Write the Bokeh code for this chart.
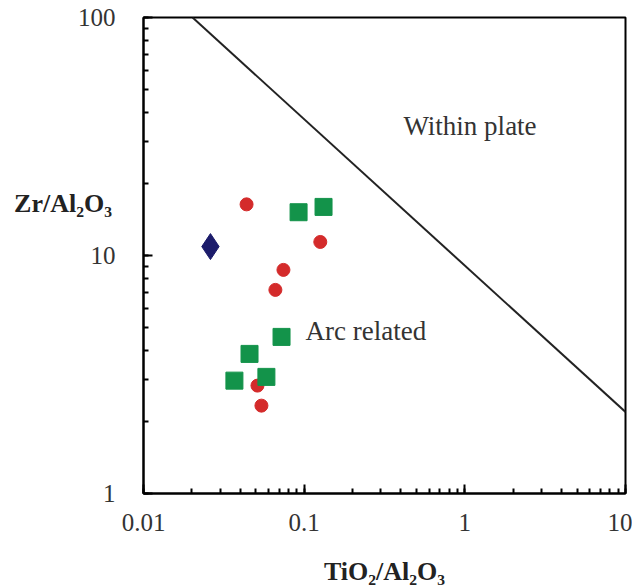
from bokeh.plotting import figure
from bokeh.models import Label, LogTicker
from bokeh.embed import file_html
from bokeh.resources import INLINE

# Data
circle_x = [0.0438, 0.126, 0.0743, 0.0662, 0.0512, 0.0542]
circle_y = [16.4, 11.4, 8.7, 7.17, 2.84, 2.34]
square_x = [0.0923, 0.132, 0.0723, 0.0457, 0.0582, 0.0368]
square_y = [15.2, 16.0, 4.55, 3.86, 3.09, 2.98]
diamond_x = [0.0261]
diamond_y = [10.9]
line_x = [0.0202, 10.0]
line_y = [100.0, 2.2]
x_ticks = [0.01, 0.1, 1, 10]
y_ticks = [1, 10, 100]

SERIF = "Liberation Serif"

p = figure(width=632, height=588, x_axis_type="log", y_axis_type="log",
           x_range=(0.01, 10), y_range=(1, 100),
           output_backend="svg", toolbar_location=None,
           min_border_left=143, min_border_right=7, min_border_top=17,
           min_border_bottom=94)
p.grid.visible = False
p.outline_line_color = "black"
p.outline_line_width = 2
p.background_fill_color = "white"
p.border_fill_color = "white"

for ax in (p.xaxis[0], p.yaxis[0]):
    ax.axis_line_width = 2
    ax.axis_line_color = "black"
    ax.major_tick_in = 9
    ax.major_tick_out = 0
    ax.minor_tick_in = 5
    ax.minor_tick_out = 0
    ax.major_tick_line_width = 2
    ax.minor_tick_line_width = 2
    ax.major_label_text_font = SERIF
    ax.major_label_text_font_size = "25px"
    ax.major_label_text_color = "#333333"

p.xaxis.ticker = LogTicker(desired_num_ticks=4, num_minor_ticks=10)
p.yaxis.ticker = LogTicker(desired_num_ticks=3, num_minor_ticks=10)
p.xaxis.major_label_overrides = {0.01: "0.01", 0.1: "0.1", 1: "1", 10: "10"}
p.yaxis.major_label_overrides = {1: "1", 10: "10", 100: "100"}
p.xaxis.major_label_standoff = 20
p.yaxis.major_label_standoff = 28

p.xaxis.axis_label = "TiO₂/Al₂O₃"
p.xaxis.axis_label_text_font = SERIF
p.xaxis.axis_label_text_font_size = "26px"
p.xaxis.axis_label_text_font_style = "bold"
p.xaxis.axis_label_text_color = "#222222"
p.xaxis.axis_label_standoff = 23

# y-axis title: horizontal, raised above the axis midpoint via trailing blank lines
p.yaxis.axis_label = "Zr/Al₂O₃\n\n\n"
p.yaxis.axis_label_orientation = "horizontal"
p.yaxis.axis_label_text_font = SERIF
p.yaxis.axis_label_text_font_size = "26px"
p.yaxis.axis_label_text_font_style = "bold"
p.yaxis.axis_label_text_color = "#222222"
p.yaxis.axis_label_standoff = -37

p.line(line_x, line_y, line_color="#222222", line_width=2)

p.scatter(circle_x, circle_y, marker="circle", size=13, fill_color="#d42b2b",
          line_color="#d42b2b")
p.scatter(square_x, square_y, marker="square", size=17, fill_color="#13934a",
          line_color="#13934a")
p.scatter(diamond_x, diamond_y, marker="diamond", size=26, fill_color="#1c1c6b",
          line_color="#1c1c6b")

p.add_layout(Label(x=0.415, y=35, text="Within plate", text_font=SERIF,
                   text_font_size="27px", text_color="#333333",
                   text_baseline="middle", text_align="left"))
p.add_layout(Label(x=0.102, y=4.8, text="Arc related", text_font=SERIF,
                   text_font_size="27px", text_color="#333333",
                   text_baseline="middle", text_align="left"))

open("out.html", "w").write(file_html(p, INLINE))
